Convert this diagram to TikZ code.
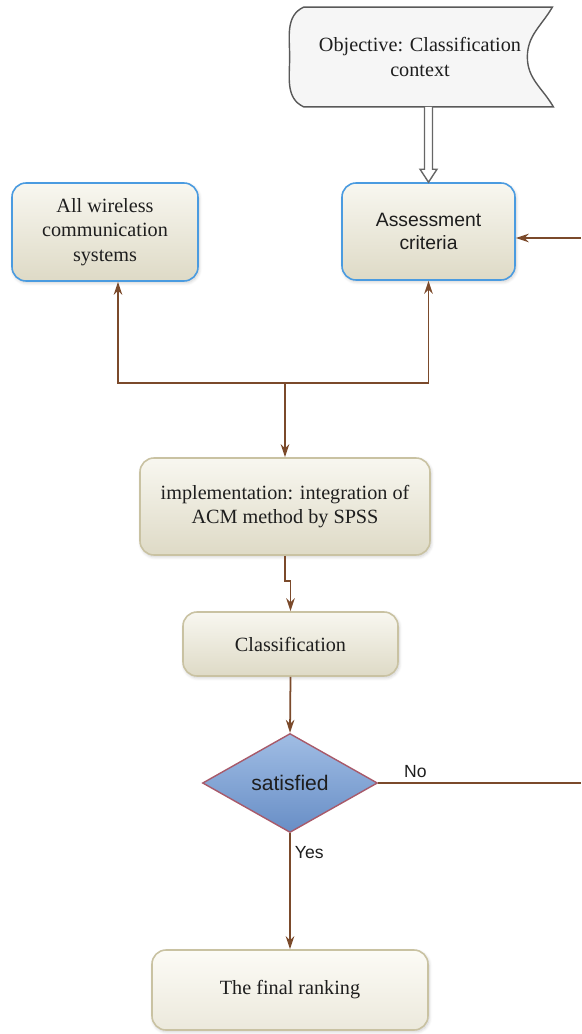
\documentclass[tikz,border=0pt]{standalone}
\usepackage{fontspec}
\setmainfont{Liberation Serif}
\setsansfont{Liberation Sans}
\usepackage{xcolor}
\definecolor{box-top}{RGB}{248,247,240}
\definecolor{box-bottom}{RGB}{222,218,198}
\definecolor{final-top}{RGB}{252,251,246}
\definecolor{final-bottom}{RGB}{236,233,220}
\definecolor{box-border}{RGB}{201,194,162}
\definecolor{blue-border}{RGB}{74,155,224}
\definecolor{link-brown}{RGB}{123,74,43}
\definecolor{diamond-top}{RGB}{160,189,228}
\definecolor{diamond-bottom}{RGB}{104,142,198}
\definecolor{diamond-border}{RGB}{168,90,106}
\definecolor{objective-fill}{RGB}{246,246,246}
\definecolor{text-primary}{RGB}{30,30,30}
\usepackage{tikz}
\usetikzlibrary{positioning,arrows.meta,shapes.geometric,calc,shadows.blur}

\begin{document}
\begin{tikzpicture}[
  stagebox/.style={
    rectangle,
    draw=box-border,
    line width=0.9pt,
    top color=box-top,
    bottom color=box-bottom,
    rounded corners=8pt,
    align=center,
    inner sep=2pt,
    text=text-primary,
    font=\fontsize{11.5}{14}\selectfont,
    blur shadow={shadow xshift=0.6pt, shadow yshift=-1pt, shadow blur steps=6, shadow opacity=20}
  },
  inputbox/.style={
    stagebox,
    draw=blue-border
  },
  decision/.style={
    diamond,
    aspect=1.77,
    inner sep=0pt,
    draw=diamond-border,
    line width=0.8pt,
    top color=diamond-top,
    bottom color=diamond-bottom,
    text=text-primary,
    font=\sffamily\fontsize{12}{14}\selectfont
  },
  flow/.style={
    -{Stealth[length=2.6mm,width=1.7mm]},
    line width=1pt,
    draw=link-brown
  },
  plain/.style={
    line width=1pt,
    draw=link-brown
  },
  answer/.style={
    font=\sffamily\fontsize{10}{12}\selectfont,
    text=text-primary
  }
]
\useasboundingbox (0,0) rectangle (11.62,-20.68);

% Objective (stored data shape)
\node[minimum width=5.2cm, minimum height=1.98cm] (objective) at (8.4,-1.14) {};
\draw[draw=black!65, line width=0.8pt, fill=objective-fill]
  ([xshift=0.28cm]objective.north west) -- ([xshift=0.04cm]objective.north east)
  to[out=-120,in=90] ([xshift=-0.46cm]objective.east)
  to[out=-90,in=120] ([xshift=0.06cm]objective.south east)
  -- ([xshift=0.28cm]objective.south west)
  to[out=155,in=-90] (objective.west)
  to[out=90,in=-155] cycle;
\node[align=center, text=text-primary, font=\fontsize{11.5}{14}\selectfont]
  at (objective.center) {Objective: Classification\\context};

% Boxes
\node[inputbox, minimum width=3.72cm, minimum height=1.96cm] (wireless) at (2.1,-4.64) {All wireless\\communication\\systems};
\node[inputbox, minimum width=3.46cm, minimum height=1.94cm, font=\sffamily\fontsize{11}{13.5}\selectfont] (assess) at (8.57,-4.63) {Assessment\\criteria};
\node[stagebox, minimum width=5.8cm, minimum height=1.94cm] (impl) at (5.7,-10.13) {implementation: integration of\\ACM method by SPSS};
\node[stagebox, minimum width=4.3cm, minimum height=1.28cm] (classif) at (5.81,-12.88) {Classification};
\node[decision, minimum width=3.5cm, minimum height=1.98cm] (satisfied) at (5.8,-15.66) {satisfied};
\node[stagebox, top color=final-top, bottom color=final-bottom, minimum width=5.52cm, minimum height=1.6cm] (final) at (5.8,-19.8) {The final ranking};

% Hollow arrow from objective
\coordinate (hollowtop) at (objective.south -| assess.north);
\draw[draw=black!60, line width=0.8pt, fill=white]
  ($(hollowtop)+(-0.08,0)$) -- ($(assess.north)+(-0.08,0.26)$) -- ($(assess.north)+(-0.17,0.26)$)
  -- (assess.north) -- ($(assess.north)+(0.17,0.26)$) -- ($(assess.north)+(0.08,0.26)$)
  -- ($(hollowtop)+(0.08,0)$);

% Junction feeding the two input boxes
\coordinate (junc) at (impl.north |- 0,-7.66);
\draw[flow] (junc) -| ([xshift=0.26cm]wireless.south);
\draw[flow] (junc) -| (assess.south);
\draw[flow] (junc) -- (impl.north);

% Main flow
\draw[flow] (impl.south) -- ++(0,-0.5) -| (classif.north);
\draw[flow] (classif.south) -- (satisfied.north);
\draw[flow] (satisfied.south) -- (final.north)
  node[answer, pos=0.17, right=-1pt] {Yes};

% Feedback loop
\coordinate (loopbottom) at (11.62,-15.66);
\coordinate (looptop) at (11.62,-4.76);
\draw[plain] (satisfied.east) -- (loopbottom)
  node[answer, pos=0.06, above right=-1pt and 4pt] {No};
\draw[flow] (looptop) -- (looptop -| assess.east);

\end{tikzpicture}
\end{document}
